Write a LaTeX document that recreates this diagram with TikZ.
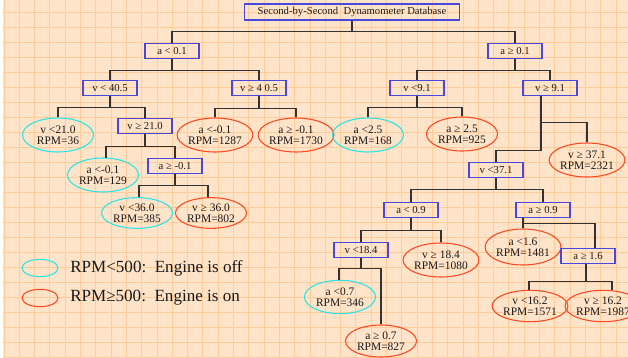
\documentclass[tikz,border=0pt]{standalone}
\usepackage{fontspec}
\setmainfont{Liberation Serif}
\usetikzlibrary{shapes.geometric,calc}
\definecolor{bgc}{RGB}{255,228,202}
\definecolor{gridc}{RGB}{255,204,154}
\definecolor{boxc}{RGB}{72,72,222}
\definecolor{offc}{RGB}{40,228,228}
\definecolor{onc}{RGB}{255,72,32}
\definecolor{linec}{RGB}{50,50,50}
\definecolor{txtc}{RGB}{25,25,25}
\tikzset{
  condbox/.style={draw=boxc, line width=0.8pt, minimum width=40.5pt, minimum height=11.25pt, inner sep=0pt, text=txtc, font=\fontsize{8}{9.5}\selectfont},
  leafbase/.style={ellipse, line width=0.8pt, minimum width=53.25pt, minimum height=25.5pt, inner sep=0pt, align=center, text=txtc, font=\fontsize{8.6}{8.6}\selectfont},
  offleaf/.style={leafbase, draw=offc},
  onleaf/.style={leafbase, draw=onc},
  conn/.style={draw=linec, line width=0.8pt},
  legtext/.style={anchor=west, inner sep=0pt, text=txtc, font=\fontsize{12.8}{14}\selectfont},
}
\begin{document}
\begin{tikzpicture}[x=0.75pt,y=-0.75pt]
\useasboundingbox (0,0) rectangle (628,357);
% background and grid
\fill[white] (0,0) rectangle (628,357);
\fill[bgc] (3,0) rectangle (628,357);
\foreach \k in {0,...,40} {\draw[gridc, line width=0.7pt] ({4+15.3*\k},0) -- ({4+15.3*\k},357);}
\foreach \k in {0,...,23} {\draw[gridc, line width=0.7pt] (3,{12.3+15*\k}) -- (628,{12.3+15*\k});}

% nodes
\node[condbox, minimum width=161pt, minimum height=12pt] (root) at (352,12) {Second-by-Second\ \ Dynamometer Database};
\node[condbox] (n1) at (172,51) {a < 0.1};
\node[condbox] (n2) at (515,51) {a ≥ 0.1};
\node[condbox] (n11) at (110,88) {v < 40.5};
\node[condbox] (n12) at (259,88) {v ≥ 4 0.5};
\node[offleaf] (n111) at (58,135) {v <21.0\\RPM=36};
\node[condbox] (n112) at (145,126) {v ≥ 21.0};
\node[onleaf] (n121) at (215,135) {a <-0.1\\RPM=1287};
\node[onleaf] (n122) at (296,135) {a ≥ -0.1\\RPM=1730};
\node[offleaf] (n1121) at (103,175) {a <-0.1\\RPM=129};
\node[condbox] (n1122) at (175,166) {a ≥ -0.1};
\node[offleaf, minimum height=23pt] (n11221) at (137,213) {v <36.0\\RPM=385};
\node[onleaf, minimum height=23pt] (n11222) at (211,213) {v ≥ 36.0\\RPM=802};

\node[condbox] (n21) at (417,88) {v <9.1};
\node[condbox] (n22) at (550,88) {v ≥ 9.1};
\node[offleaf] (n211) at (368,135) {a <2.5\\RPM=168};
\node[onleaf] (n212) at (462,134) {a ≥ 2.5\\RPM=925};
\node[condbox] (n221) at (496,170) {v <37.1};
\node[onleaf] (n222) at (587,160) {v ≥ 37.1\\RPM=2321};
\node[condbox] (n2211) at (411,210) {a < 0.9};
\node[condbox] (n2212) at (543,210) {a ≥ 0.9};
\node[condbox] (n22111) at (361,250) {v <18.4};
\node[onleaf] (n22112) at (441,260) {v ≥ 18.4\\RPM=1080};
\node[offleaf, minimum height=25pt] (n221111) at (340,297) {a <0.7\\RPM=346};
\node[onleaf, minimum height=24pt] (n221112) at (381,341) {a ≥ 0.7\\RPM=827};
\node[onleaf, minimum height=27pt] (n22121) at (523,247) {a <1.6\\RPM=1481};
\node[condbox] (n22122) at (588,256) {a ≥ 1.6};
\node[onleaf, minimum height=23.5pt] (n221221) at (530,306) {v <16.2\\RPM=1571};
\node[onleaf, minimum height=23.5pt] (n221222) at (603,306) {v ≥ 16.2\\RPM=1987};

% connectors
\draw[conn] (root.south) -- ++(0,11) coordinate (b0);
\draw[conn] (n1.north) |- (b0) -| (n2.north);
\draw[conn] (n1.south) -- ++(0,11) coordinate (b1);
\draw[conn] (n11.north) |- (b1) -| (n12.north);
\draw[conn] (n11.south) -- ++(0,11) coordinate (b11);
\draw[conn] (n111.north) |- (b11) -| (n112.north);
\draw[conn] (n12.south) -- ++(0,12) coordinate (b12);
\draw[conn] (n121.north) |- (b12) -| (n122.north);
\draw[conn] (n112.south) -- ++(0,12) coordinate (b112);
\draw[conn] ($(n1121.north)+(3,0.1)$) |- (b112) -| (n1122.north);
\draw[conn] (n1122.south) -- ++(0,11.5) coordinate (b1122);
\draw[conn] ($(n11221.north)+(2,0)$) |- (b1122) -| ($(n11222.north)+(-3,0)$);

\draw[conn] (n2.south) -- ++(0,11) coordinate (b2);
\draw[conn] (n21.north) |- (b2) -| (n22.north);
\draw[conn] (n21.south) -- ++(0,11) coordinate (b21);
\draw[conn] (n211.north) |- (b21) -| (n212.north);
\draw[conn] ($(n22.south)+(-9,0)$) coordinate (s22) -- ++(0,54.5) coordinate (b22) -| (n221.north);
\draw[conn] ($(s22)+(0,26.5)$) -| (n222.north);
\draw[conn] (n221.south) -- ++(0,11.5) coordinate (b221);
\draw[conn] (n2211.north) |- (b221) -| (n2212.north);
\draw[conn] (n2211.south) -- ++(0,12) coordinate (b2211);
\draw[conn] (n22111.north) |- (b2211) -| (n22112.north);
\draw[conn] (n22111.south) -- ++(0,10.5) coordinate (b22111);
\draw[conn] ($(n221111.north)+(-1,0)$) |- (b22111) -| (n221112.north);
\draw[conn] (n22121.north |- n2212.south) -- (n22121.north);
\draw[conn] ($(n22121.north |- n2212.south)+(0,5.5)$) -| ($(n22122.north)+(7,0)$);
\draw[conn] ($(n22122.south)+(-2,0)$) -- ++(0,17.5) coordinate (b22122);
\draw[conn] ($(n221221.north)+(-1,0)$) |- (b22122) -| ($(n221222.north)+(9,0.5)$);

% legend
\node[ellipse, draw=offc, line width=0.8pt, minimum width=27pt, minimum height=13pt, inner sep=0pt] (legoff) at (40,268) {};
\node[ellipse, draw=onc, line width=0.8pt, minimum width=27pt, minimum height=13pt, inner sep=0pt] (legon) at (40,298) {};
\node[legtext] (legofft) at (70,268) {RPM<500:\ \ Engine is off};
\node[legtext] (legont) at (70,298) {RPM≥500:\ \ Engine is on};
\end{tikzpicture}
\end{document}
